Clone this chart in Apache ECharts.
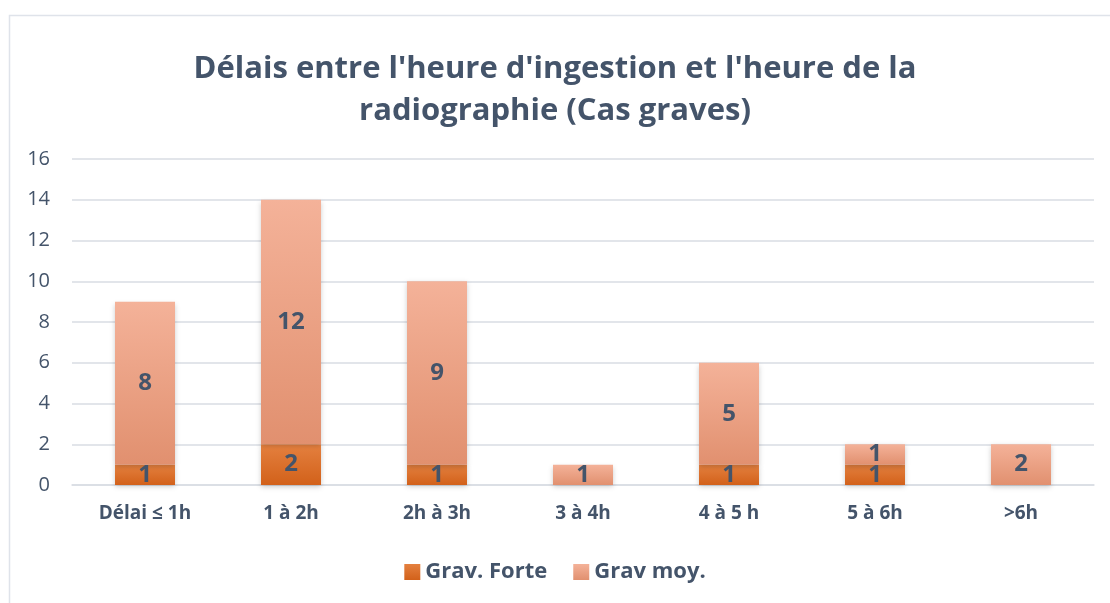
<!DOCTYPE html>
<html>
<head>
<meta charset="utf-8">
<script src="https://cdn.jsdelivr.net/npm/echarts@6/dist/echarts.min.js"></script>
<style>
  html, body { margin: 0; padding: 0; background: #fff; }
  #chart { width: 1110px; height: 603px; }
</style>
</head>
<body>
<div id="chart"></div>
<script>
const categories = ['Délai ≤ 1h', '1 à 2h', '2h à 3h', '3 à 4h', '4 à 5 h', '5 à 6h', '>6h'];
const gravForte = [1, 2, 1, 0, 1, 1, 0];
const gravMoy = [8, 12, 9, 1, 5, 1, 2];
const yTicks = [0, 2, 4, 6, 8, 10, 12, 14, 16];

const FONT = 'Open Sans';
const TXT = '#44546a';

const grad = (top, bottom) => new echarts.graphic.LinearGradient(0, 0, 0, 1, [
  { offset: 0, color: top },
  { offset: 1, color: bottom },
]);

const chart = echarts.init(document.getElementById('chart'), null, { renderer: 'canvas' });

const labelStyle = {
  show: true,
  position: 'inside',
  color: TXT,
  fontFamily: FONT,
  fontWeight: 'bold',
  fontSize: 24,
  formatter: p => (p.value > 0 ? p.value : ''),
};

const option = {
  animation: false,
  backgroundColor: '#fff',
  title: {
    text: "Délais entre l'heure d'ingestion et l'heure de la\nradiographie (Cas graves)",
    left: 'center',
    top: 43,
    textStyle: {
      color: TXT,
      fontFamily: FONT,
      fontWeight: 'bold',
      fontSize: 31,
      lineHeight: 42,
    },
  },
  graphic: [{
    type: 'rect',
    shape: { x: 9.5, y: 15.5, width: 1200, height: 700 },
    style: { fill: 'none', stroke: '#dfe3ea', lineWidth: 1.5 },
    silent: true,
  }],
  legend: {
    bottom: 15,
    left: 'center',
    itemWidth: 16,
    itemHeight: 16,
    itemGap: 26,
    icon: 'rect',
    textStyle: { color: TXT, fontFamily: FONT, fontWeight: 'bold', fontSize: 22 },
    data: ['Grav. Forte', 'Grav moy.'],
  },
  grid: { left: 72, right: 16, top: 159, bottom: 118, containLabel: false },
  xAxis: {
    type: 'category',
    data: categories,
    axisLine: { lineStyle: { color: '#d9dde3', width: 1.5 } },
    axisTick: { show: false },
    axisLabel: { color: TXT, fontFamily: FONT, fontWeight: 'bold', fontSize: 19, margin: 19 },
  },
  yAxis: {
    type: 'value',
    min: 0,
    max: yTicks[yTicks.length - 1],
    interval: 2,
    axisLine: { show: false },
    axisTick: { show: false },
    splitLine: { lineStyle: { color: '#d9dde3', width: 1.5 } },
    axisLabel: { color: TXT, fontFamily: FONT, fontSize: 20, margin: 22 },
  },
  series: [
    {
      name: 'Grav. Forte',
      type: 'bar',
      stack: 'total',
      barWidth: 60,
      data: gravForte,
      itemStyle: {
        color: grad('#e4803f', '#d2611a'),
        shadowBlur: 5,
        shadowColor: 'rgba(0,0,0,0.2)',
        shadowOffsetY: 2,
      },
      label: labelStyle,
    },
    {
      name: 'Grav moy.',
      type: 'bar',
      stack: 'total',
      barWidth: 60,
      data: gravMoy,
      itemStyle: {
        color: grad('#f4b299', '#e1906f'),
        shadowBlur: 5,
        shadowColor: 'rgba(0,0,0,0.2)',
        shadowOffsetY: 2,
      },
      label: labelStyle,
    },
  ],
};

chart.setOption(option);
</script>
</body>
</html>
